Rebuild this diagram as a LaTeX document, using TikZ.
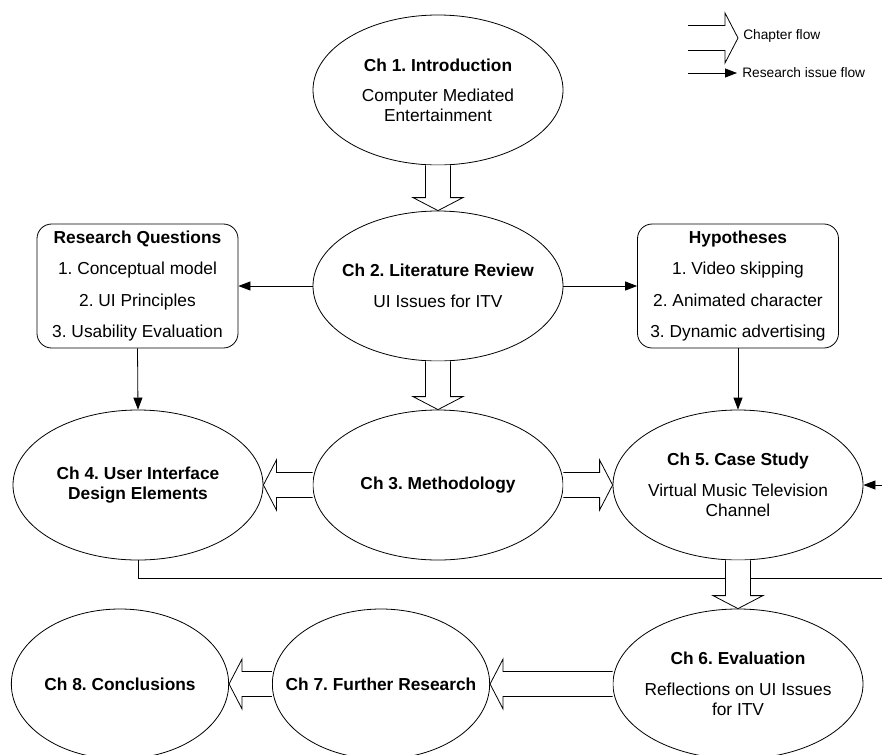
\documentclass[tikz,border=0pt]{standalone}
\usepackage{fontspec}
\setmainfont{Liberation Sans}
\usepackage{tikz}
\usetikzlibrary{arrows.meta,shapes.geometric,calc}
\frenchspacing
\newcommand{\chfont}{\fontsize{13}{15}\selectfont}
\newcommand{\legfont}{\fontsize{10.3}{12}\selectfont}

\begin{document}
\begin{tikzpicture}[x=0.75pt,y=-0.75pt,font=\chfont,
    chap/.style={ellipse,draw,fill=white,line width=0.6pt,inner sep=0pt,
      minimum width=187.5pt,minimum height=112.5pt},
    chaptxt/.style={align=center,inner sep=0pt},
    issuebox/.style={draw,fill=white,line width=0.6pt,rounded corners=11pt,
      align=center,inner sep=0pt,minimum width=150.75pt,minimum height=93pt},
    resflow/.style={-{Triangle[length=9pt,width=6.75pt]},line width=0.6pt},
    chapflow/.style={draw,fill=white,line width=0.6pt,to path={
      let \p1=(\tikztostart),\p2=(\tikztotarget),
          \n1={atan2(\y2-\y1,\x2-\x1)},\n2={veclen(\x2-\x1,\y2-\y1)} in
      {[shift={(\p1)},rotate=\n1]
        (0pt,9.4pt) -- (\n2-9.75pt,9.4pt) -- (\n2-9.75pt,18.75pt) -- (\n2*1pt,0pt)
        -- (\n2-9.75pt,-18.75pt) -- (\n2-9.75pt,-9.4pt) -- (0pt,-9.4pt)}}}]
  \useasboundingbox (0,0) rectangle (882,754);
  \clip (0,0) rectangle (882,754);

  % chapters
  \node[chap] (ch1) at (438,90) {};
  \node[chap] (ch2) at (438,286) {};
  \node[chap] (ch3) at (438,485) {};
  \node[chap] (ch4) at (138,485) {};
  \node[chap] (ch5) at (738,485) {};
  \node[chap] (ch6) at (738,684) {};
  \node[chap,minimum width=163pt] (ch7) at (381,684) {};
  \node[chap,minimum width=163pt] (ch8) at (120,684) {};

  \node[chaptxt] (ch1txt) at (ch1) {\textbf{Ch 1. Introduction}\\[7.5pt]Computer Mediated\\Entertainment};
  \node[chaptxt] (ch2txt) at (ch2) {\textbf{Ch 2. Literature Review}\\[8.5pt]UI Issues for ITV};
  \node[chaptxt] (ch3txt) at (ch3) {\textbf{Ch 3. Methodology}};
  \node[chaptxt] (ch4txt) at (ch4) {\textbf{Ch 4. User Interface}\\\textbf{Design Elements}};
  \node[chaptxt] (ch5txt) at (ch5) {\textbf{Ch 5. Case Study}\\[8.5pt]Virtual Music Television\\Channel};
  \node[chaptxt] (ch6txt) at (ch6) {\textbf{Ch 6. Evaluation}\\[8.5pt]Reflections on UI Issues\\for ITV};
  \node[chaptxt] (ch7txt) at (ch7) {\textbf{Ch 7. Further Research}};
  \node[chaptxt] (ch8txt) at (ch8) {\textbf{Ch 8. Conclusions}};

  % research issues
  \node[issuebox] (rq) at (137.5,286) {\textbf{Research Questions}\\[8.5pt]1. Conceptual model\\[8.5pt]2. UI Principles\\[8.5pt]3. Usability Evaluation};
  \node[issuebox] (hyp) at (738,286) {\textbf{Hypotheses}\\[8.5pt]1. Video skipping\\[8.5pt]2. Animated character\\[8.5pt]3. Dynamic advertising};

  \draw[resflow] (ch2.west) -- (rq.east);
  \draw[resflow] (ch2.east) -- (hyp.west);
  \draw[resflow] (rq.south) -- (ch4.north);
  \draw[resflow] (hyp.south) -- (ch5.north);
  \coordinate (loop) at (900,578);
  \draw[resflow] (ch4.south) |- (loop) |- (ch5.east);

  % chapter flow
  \draw[chapflow] (ch1.south) to (ch2.north);
  \draw[chapflow] (ch2.south) to (ch3.north);
  \draw[chapflow] (ch3.west) to (ch4.east);
  \draw[chapflow] (ch3.east) to (ch5.west);
  \draw[chapflow] (ch5.south) to (ch6.north);
  \draw[chapflow] (ch6.west) to (ch7.east);
  \draw[chapflow] (ch7.west) to (ch8.east);

  % legend
  \coordinate (legc1) at (688,38);
  \coordinate (legc2) at (738,38);
  \draw[chapflow] (legc1) to (legc2);
  \node[anchor=west,font=\legfont,inner sep=0pt] (legctxt) at (743,36) {Chapter flow};
  \coordinate (legr1) at (688,73);
  \coordinate (legr2) at (737,73);
  \draw[resflow] (legr1) -- (legr2);
  \node[anchor=west,font=\legfont,inner sep=0pt] (legrtxt) at (742,73) {Research issue flow};
\end{tikzpicture}
\end{document}
